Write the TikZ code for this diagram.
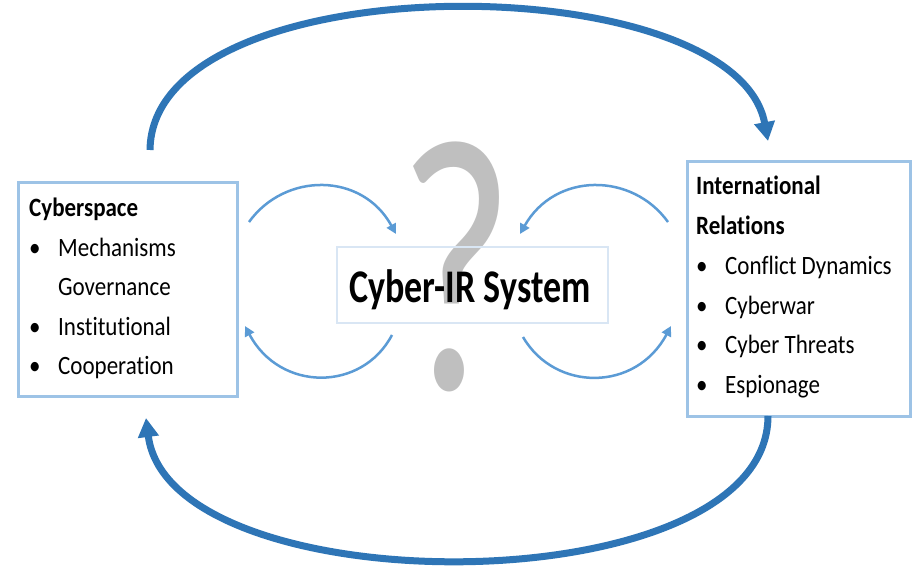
\documentclass[tikz,border=0pt]{standalone}
\usepackage{fontspec}
\usepackage{graphicx}
\setmainfont{Carlito}[Ligatures=CommonOff]
\usetikzlibrary{arrows.meta}
\definecolor{bigblue}{HTML}{2E75B6}
\definecolor{smallblue}{HTML}{5B9BD5}
\definecolor{boxblue}{HTML}{9DC3E6}
\definecolor{paleblue}{HTML}{D9E6F4}
\definecolor{qgray}{HTML}{BFBFBF}
\newcommand{\vst}[1]{\scalebox{1}[1.15]{#1}}
\tikzset{
  sidebox/.style={draw=boxblue, line width=3pt, inner sep=0pt},
  centerbox/.style={draw=paleblue, line width=2.5pt, inner sep=0pt},
  txt/.style={anchor=base west, inner sep=0pt, font=\fontsize{23}{28}\selectfont},
  hdr/.style={txt, font=\fontsize{23}{28}\selectfont\bfseries},
  bigarrow/.style={draw=bigblue, line width=7pt, -{Triangle[length=19pt,width=20pt]}},
  smallarrow/.style={draw=smallblue, line width=2.5pt, -{Triangle[length=10pt,width=10pt]}},
}
\begin{document}
\begin{tikzpicture}[x=1pt,y=-1pt]
\useasboundingbox (0,0) rectangle (914,569);
\fill[white] (0,0) rectangle (914,569);

% question mark behind
\node[anchor=base, inner sep=0pt, text=qgray, font=\fontsize{250}{250}\selectfont] (Q) at (456,390) {\scalebox{1}[1.45]{?}};

% boxes
\node[sidebox, minimum width=219pt, minimum height=214pt] (L) at (127.5,290) {};
\node[sidebox, minimum width=223pt, minimum height=255pt] (R) at (798.5,289.5) {};
\node[centerbox, minimum width=271pt, minimum height=76pt] (C) at (472.5,285) {};

% center text
\node[anchor=base, inner sep=0pt, font=\fontsize{36}{40}\selectfont\bfseries] (CT) at (470,303) {\scalebox{1}[1.3]{Cyber-IR System}};

% left text
\node[hdr] (l0) at (29,217) {\vst{Cyberspace}};
\node[txt] (lb1) at (29,257) {\vst{•}};
\node[txt] (l1) at (58,257) {\vst{Mechanisms}};
\node[txt] (l2) at (58,296) {\vst{Governance}};
\node[txt] (lb3) at (29,336) {\vst{•}};
\node[txt] (l3) at (58,336) {\vst{Institutional}};
\node[txt] (lb4) at (29,375) {\vst{•}};
\node[txt] (l4) at (58,375) {\vst{Cooperation}};

% right text
\node[hdr] (r0) at (696,195) {\vst{International}};
\node[hdr] (r1) at (696,235) {\vst{Relations}};
\node[txt] (rb2) at (696,275) {\vst{•}};
\node[txt] (r2) at (725,275) {\vst{Conflict Dynamics}};
\node[txt] (rb3) at (696,315) {\vst{•}};
\node[txt] (r3) at (725,315) {\vst{Cyberwar}};
\node[txt] (rb4) at (696,354) {\vst{•}};
\node[txt] (r4) at (725,354) {\vst{Cyber Threats}};
\node[txt] (rb5) at (696,394) {\vst{•}};
\node[txt] (r5) at (725,394) {\vst{Espionage}};

% big arc end points
\coordinate (TA) at (150,150);
\coordinate (TB) at (768,141);
\coordinate (BA) at (768,416);
\coordinate (BB) at (146,418);
\draw[bigarrow] (TA) .. controls (152,-38) and (735,-36) .. (TB);
\draw[bigarrow] (BA) .. controls (768,607) and (170,607) .. (BB);

% small arcs
\coordinate (ul0) at (249,222);
\coordinate (ul1) at (396,234);
\coordinate (ur0) at (668,222);
\coordinate (ur1) at (520,234);
\coordinate (ll0) at (392,335);
\coordinate (ll1) at (245,326);
\coordinate (lr0) at (523,337);
\coordinate (lr1) at (671,326);
\draw[smallarrow] (ul0) .. controls (285,172) and (362,172) .. (ul1);
\draw[smallarrow] (ur0) .. controls (632,172) and (555,172) .. (ur1);
\draw[smallarrow] (ll0) .. controls (362,392) and (280,392) .. (ll1);
\draw[smallarrow] (lr0) .. controls (555,392) and (636,392) .. (lr1);
\end{tikzpicture}
\end{document}
